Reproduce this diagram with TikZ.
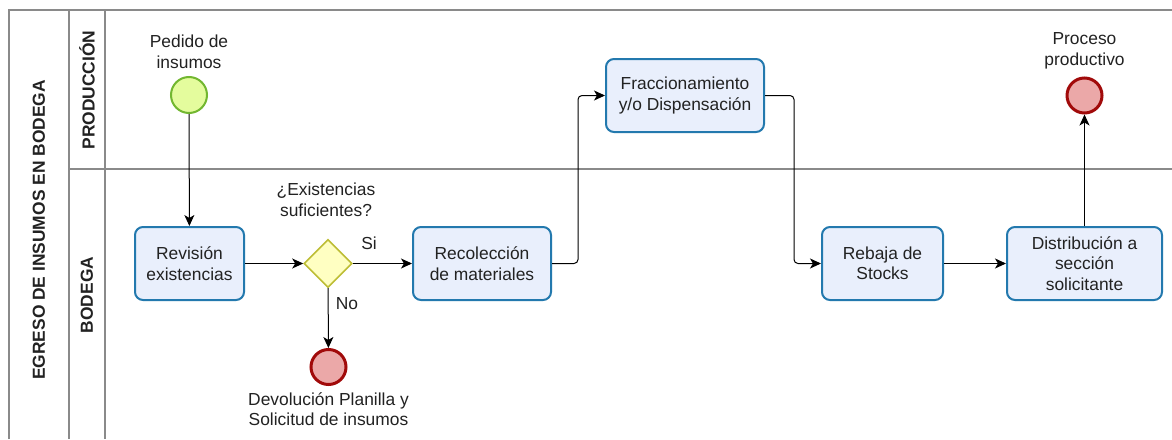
\documentclass[tikz,border=0pt]{standalone}
\usepackage{fontspec}
\setmainfont{Liberation Sans}
\usetikzlibrary{arrows.meta,shapes.geometric}
\definecolor{lanegray}{HTML}{8A8A8A}
\definecolor{taskfill}{HTML}{E9EFFC}
\definecolor{taskline}{HTML}{2379AE}
\definecolor{startfill}{HTML}{E4FC9D}
\definecolor{startline}{HTML}{72B730}
\definecolor{endfill}{HTML}{EBA8A8}
\definecolor{endline}{HTML}{A10A0A}
\definecolor{gatefill}{HTML}{FFFFC2}
\definecolor{gateline}{HTML}{BDBD35}
\definecolor{txt}{HTML}{222222}
\tikzset{
  every node/.style={font=\fontsize{17.4}{20.5}\selectfont, text=txt},
  lane/.style={draw=lanegray, line width=1.3pt},
  task/.style={draw=taskline, fill=taskfill, line width=2pt, rounded corners=8pt,
    inner sep=0pt, align=center},
  startev/.style={circle, draw=startline, fill=startfill, line width=2pt,
    minimum size=36pt, inner sep=0pt},
  endev/.style={circle, draw=endline, fill=endfill, line width=3pt,
    minimum size=35pt, inner sep=0pt},
  gate/.style={diamond, draw=gateline, fill=gatefill, line width=1.6pt,
    minimum size=48pt, inner sep=0pt},
  flow/.style={draw=black, line width=1pt, rounded corners=4pt,
    -{Stealth[length=11pt,width=10pt,inset=3pt]}},
  lbl/.style={align=center, inner sep=0pt},
  hdr/.style={font=\fontsize{17.4}{20.5}\selectfont\bfseries, rotate=90, inner sep=0pt}
}
\begin{document}
\begin{tikzpicture}[x=1pt,y=-1pt]
\useasboundingbox (0,0) rectangle (1172,439);
\fill[white] (0,0) rectangle (1172,439);

% pool and lane frame
\draw[lane] (9,439) -- (9,10) -- (1172,10);
\draw[lane] (69,10) -- (69,439);
\draw[lane] (105,10) -- (105,439);
\draw[lane] (69,169) -- (1172,169);
\node[hdr] (pool) at (39,230) {EGRESO DE INSUMOS EN BODEGA};
\node[hdr] (prod) at (87,90) {PRODUCCIÓN};
\node[hdr] (bod) at (87,295) {BODEGA};

% events
\node[startev] (start) at (189,95) {};
\node[lbl] (startlbl) at (189,52) {Pedido de\\insumos};
\node[endev] (endprod) at (1084.5,95.5) {};
\node[lbl] (endprodlbl) at (1084.5,51) {Proceso\\productivo};
\node[endev] (enddev) at (328.5,367) {};
\node[lbl] (enddevlbl) at (328.5,409) {Devolución Planilla y\\Solicitud de insumos};

% tasks
\node[task, minimum width=109pt, minimum height=73pt] (rev) at (189.5,263.5) {Revisión\\existencias};
\node[task, minimum width=138pt, minimum height=73pt] (rec) at (482,263.5) {Recolección\\de materiales};
\node[task, minimum width=158pt, minimum height=73pt] (frac) at (685,95.5) {Fraccionamiento\\y/o Dispensación};
\node[task, minimum width=121pt, minimum height=73pt] (reb) at (882.5,263.5) {Rebaja de\\Stocks};
\node[task, minimum width=155pt, minimum height=73pt] (dist) at (1084.5,263.5) {Distribución a\\sección\\solicitante};

% gateway
\node[gate] (gw) at (328,263.5) {};
\node[lbl] (gwlbl) at (326,200) {¿Existencias\\suficientes?};
\node[lbl] (si) at (369,243) {Si};
\node[lbl] (no) at (347,304) {No};

% sequence flows
\draw[flow] (start) -- (rev);
\draw[flow] (rev) -- (gw);
\draw[flow] (gw) -- (rec);
\draw[flow] (gw) -- (enddev);
\draw[flow] (rec.east) -- ++(26,0) |- (frac.west);
\draw[flow] (frac.east) -- ++(29,0) |- (reb.west);
\draw[flow] (reb) -- (dist);
\draw[flow] (dist) -- (endprod);
\end{tikzpicture}
\end{document}
